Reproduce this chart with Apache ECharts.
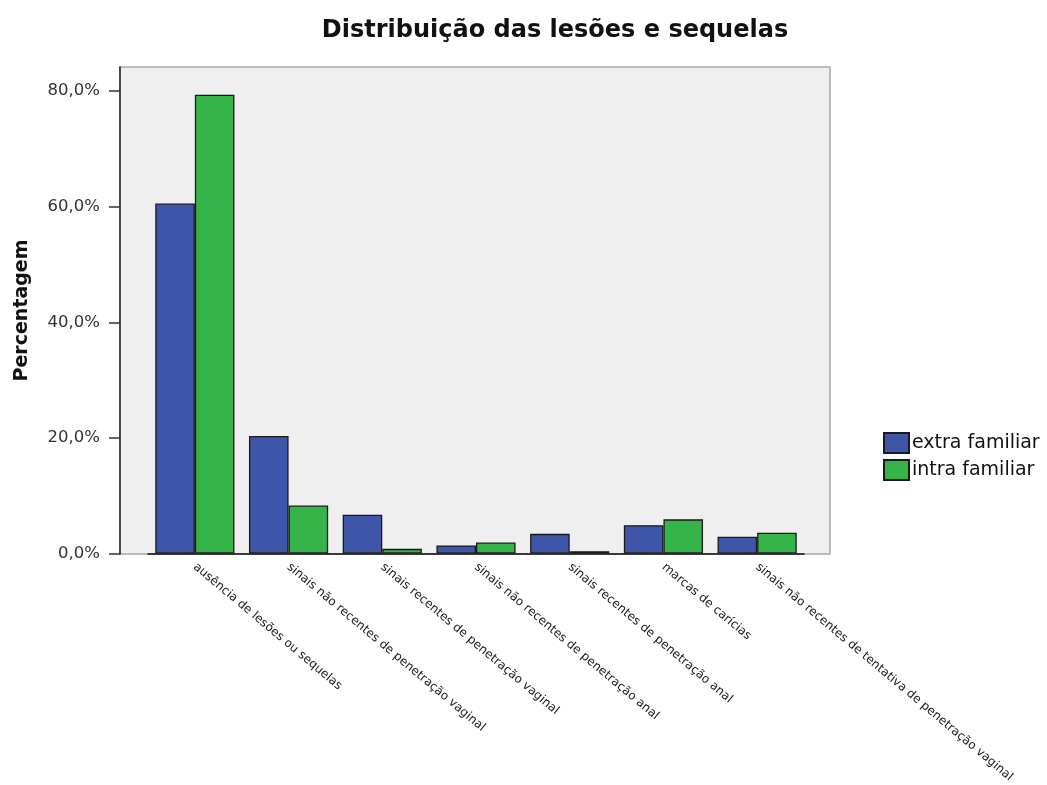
<!DOCTYPE html>
<html>
<head>
<meta charset="utf-8">
<script src="https://cdn.jsdelivr.net/npm/echarts@6/dist/echarts.min.js"></script>
<style>html,body{margin:0;padding:0;background:#fff}#c{width:1047px;height:785px}</style>
</head>
<body>
<div id="c"></div>
<script>
const categories = [
  'ausência de lesões ou sequelas',
  'sinais não recentes de penetração vaginal',
  'sinais recentes de penetração vaginal',
  'sinais não recentes de penetração anal',
  'sinais recentes de penetração anal',
  'marcas de carícias',
  'sinais não recentes de tentativa de penetração vaginal'
];
const extraFamiliar = [60.5, 20.3, 6.7, 1.4, 3.4, 4.9, 2.9];
const intraFamiliar = [79.3, 8.3, 0.8, 1.9, 0.4, 5.9, 3.6];
const yTicks = [0, 20, 40, 60, 80];

const chart = echarts.init(document.getElementById('c'));
const fmt = v => v.toFixed(1).replace('.', ',') + '%';
const yMax = 84.1;
chart.setOption({
  animation: false,
  textStyle: { fontFamily: 'DejaVu Sans' },
  title: {
    text: 'Distribuição das lesões e sequelas',
    left: 550, top: 14, textAlign: 'center',
    textStyle: { fontFamily: 'DejaVu Sans', fontWeight: 'bold', fontSize: 24, color: '#111' }
  },
  legend: {
    orient: 'vertical', left: 878, top: 427,
    itemWidth: 25, itemHeight: 20, itemGap: 5,
    icon: 'rect',
    textStyle: { fontFamily: 'DejaVu Sans', fontSize: 19, color: '#111', padding: [0, 0, 0, -2] },
    data: ['extra familiar', 'intra familiar']
  },
  grid: [
    { left: 120, top: 67, width: 710, height: 487, show: true, backgroundColor: '#efefef', borderColor: '#a8a8a8', borderWidth: 1.5 },
    { left: 148, top: 67, width: 656, height: 487 }
  ],
  xAxis: [
    { gridIndex: 0, type: 'value', min: 0, max: 1, show: false },
    {
      gridIndex: 1, type: 'category', data: categories,
      axisLine: { lineStyle: { color: '#111', width: 1.5 } },
      axisTick: { alignWithLabel: true, length: 10, lineStyle: { color: '#111', width: 1.5 } },
      axisLabel: { rotate: -40, fontSize: 12, color: '#1a1a1a', margin: 12, interval: 0, fontFamily: 'DejaVu Sans' }
    }
  ],
  yAxis: [
    {
      gridIndex: 0, type: 'value', min: 0, max: yMax,
      name: 'Percentagem', nameLocation: 'middle', nameRotate: 90, nameGap: 88,
      nameTextStyle: { fontFamily: 'DejaVu Sans', fontWeight: 'bold', fontSize: 19, color: '#111' },
      axisLine: { show: true, lineStyle: { color: '#222', width: 1.5 } },
      axisTick: { show: true, length: 11, customValues: yTicks, lineStyle: { color: '#333', width: 1.5 } },
      axisLabel: { customValues: yTicks, formatter: fmt, fontSize: 16.5, color: '#333', margin: 20 },
      splitLine: { show: false }
    },
    { gridIndex: 1, type: 'value', min: 0, max: yMax, show: false }
  ],
  series: [
    {
      name: 'extra familiar', type: 'bar', xAxisIndex: 1, yAxisIndex: 1,
      data: extraFamiliar, barGap: '0%', barCategoryGap: '15.5%',
      itemStyle: { color: '#3f55a9', borderColor: '#1a1a1a', borderWidth: 1.3 }
    },
    {
      name: 'intra familiar', type: 'bar', xAxisIndex: 1, yAxisIndex: 1,
      data: intraFamiliar, barGap: '0%', barCategoryGap: '15.5%',
      itemStyle: { color: '#35b44a', borderColor: '#1a1a1a', borderWidth: 1.3 }
    }
  ]
});
</script>
</body>
</html>
